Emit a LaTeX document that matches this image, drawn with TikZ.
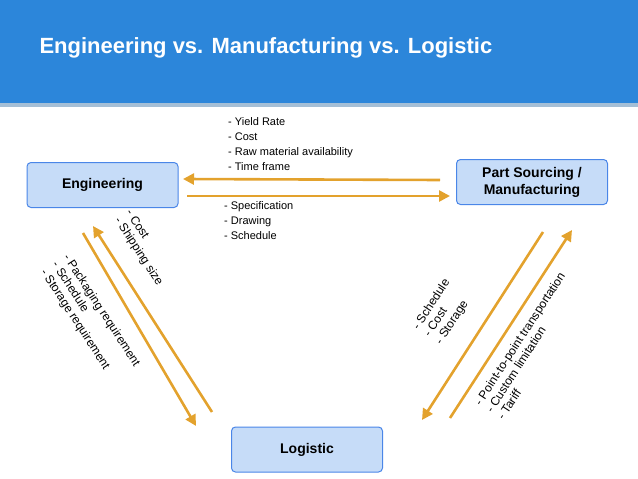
\documentclass[tikz,border=0pt]{standalone}
\usepackage{fontspec}
\setmainfont{Liberation Sans}
\usetikzlibrary{arrows.meta}
\definecolor{hdrblue}{HTML}{2C86DA}
\definecolor{boxfill}{HTML}{C6DCF8}
\definecolor{boxline}{HTML}{4A86E8}
\definecolor{flow}{HTML}{E3A22D}
\begin{document}
\begin{tikzpicture}[x=1pt,y=-1pt,
  box/.style={rounded corners=4pt,draw=boxline,fill=boxfill,line width=1pt,minimum width=151pt,minimum height=45pt,font=\bfseries\fontsize{14}{17}\selectfont,align=center},
  note/.style={align=left,font=\fontsize{11}{15}\selectfont,inner sep=0pt},
  rnote/.style={align=left,font=\fontsize{12}{13.5}\selectfont,inner sep=0pt},
  flw/.style={draw=flow,line width=2.6pt,-{Triangle[length=11pt,width=11pt]}}]
            \useasboundingbox (0,0) rectangle (638,479);
            \fill[hdrblue!70!black,opacity=.4] (0,103) rectangle (638,107);
            \fill[hdrblue] (0,0) rectangle (638,103);
            \node(title)[anchor=west,text=white,font=\bfseries\fontsize{22}{26}\selectfont] at (36,48){Engineering vs. Manufacturing vs. Logistic};
            \node(eng)[box] at (102.5,185){Engineering};
            \node(mfg)[box] at (532,182){Part Sourcing /\\Manufacturing};
            \node(log)[box] at (307,449.5){Logistic};
            \coordinate(t1) at (440,180);  \coordinate(t2) at (183,179);
            \coordinate(t3) at (187,196);  \coordinate(t4) at (450,196);
            \coordinate(l1) at (212,412);  \coordinate(l2) at (93,226);
            \coordinate(l3) at (83,233);   \coordinate(l4) at (196,426);
            \coordinate(r1) at (543,232);  \coordinate(r2) at (422,420);
            \coordinate(r3) at (450,418);  \coordinate(r4) at (572,230);
            \draw[flw] (t1) -- (t2);
            \draw[flw] (t3) -- (t4);
            \draw[flw] (l1) -- (l2);
            \draw[flw] (l3) -- (l4);
            \draw[flw] (r1) -- (r2);
            \draw[flw] (r3) -- (r4);
            \node(up)[note,anchor=north west] at (228,117){- Yield Rate\\- Cost\\- Raw material availability\\- Time frame};
            \node(down)[note,anchor=north west] at (224,201){- Specification\\- Drawing\\- Schedule};
            \node(eng log)[rnote,rotate=-57] at (144,248){- Cost\\- Shipping size};
            \node(log eng)[rnote,rotate=-57] at (90,318){- Packaging requirement\\- Schedule\\- Storage requirement};
            \node(mfg log)[rnote,rotate=57] at (443,312){- Schedule\\- Cost\\- Storage};
            \node(log mfg)[rnote,rotate=57] at (531,346){- Point-to-point transportation\\- Custom limitation\\- Tariff};
        \end{tikzpicture}
\end{document}
